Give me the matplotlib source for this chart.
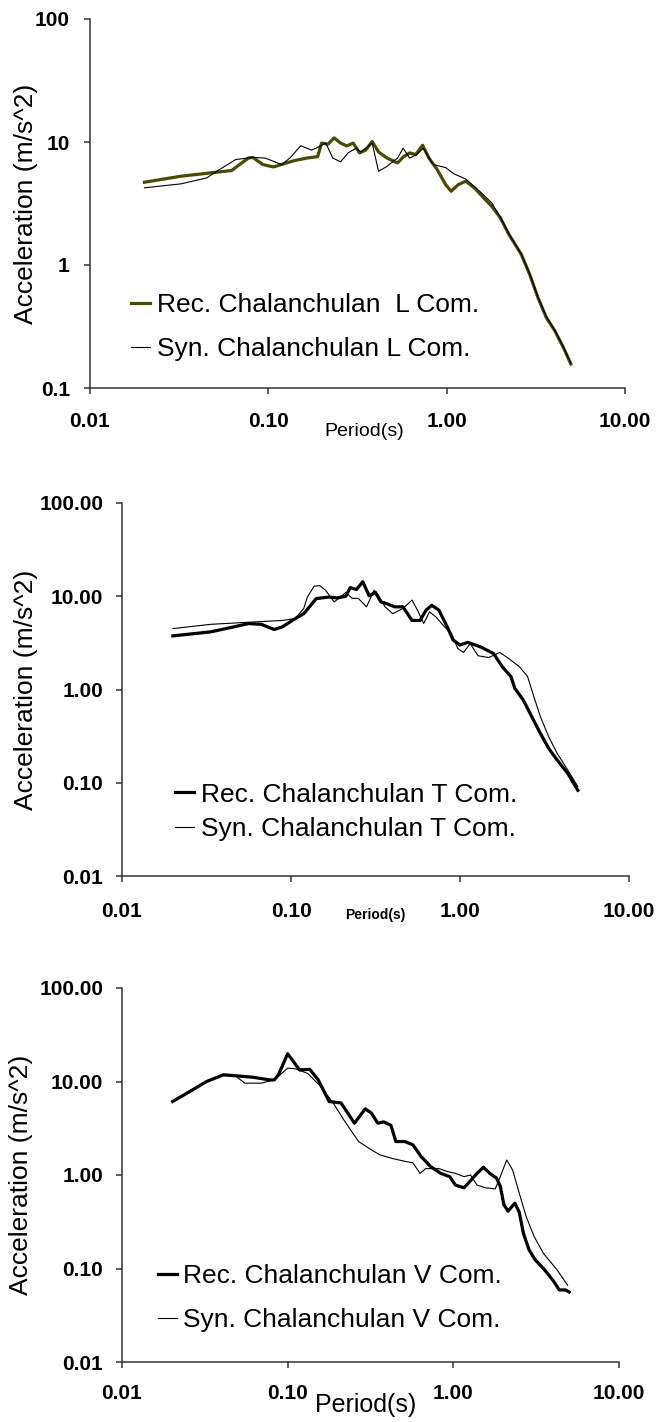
import matplotlib
matplotlib.use("Agg")
import matplotlib.pyplot as plt
from matplotlib.ticker import FixedLocator, FixedFormatter, NullLocator

plt.rcParams['font.family'] = ['Liberation Sans', 'DejaVu Sans']

# ---------------- data ----------------
# Panel L
L_rec_T = [0.0202, 0.0324, 0.0474, 0.0622, 0.0773, 0.0817, 0.0933, 0.107, 0.140, 0.165, 0.189, 0.199,
           0.216, 0.234, 0.254, 0.275, 0.299, 0.325, 0.352, 0.382, 0.415, 0.463, 0.530, 0.574, 0.62,
           0.67, 0.733, 0.795, 0.885, 0.986, 1.06, 1.16, 1.28, 1.44, 1.61, 1.79, 2.0, 2.23, 2.62,
           2.92, 3.25, 3.62, 4.04, 4.51, 4.97]
L_rec_A = [4.71, 5.27, 5.61, 5.86, 7.41, 7.5, 6.55, 6.27, 7.06, 7.41, 7.6, 9.8,
           9.6, 10.8, 9.8, 9.3, 9.8, 8.15, 8.6, 10.1, 8.3, 7.4, 6.76, 7.6, 8.15,
           7.9, 9.4, 7.4, 5.97, 4.51, 3.98, 4.5, 4.8, 4.2, 3.52, 3.0, 2.42, 1.78, 1.22,
           0.84, 0.543, 0.374, 0.292, 0.214, 0.157]
L_syn_T = [0.0202, 0.0324, 0.045, 0.053, 0.0656, 0.082, 0.096, 0.119, 0.132, 0.152, 0.174, 0.185,
           0.21, 0.23, 0.254, 0.28, 0.31, 0.33, 0.382, 0.415, 0.46, 0.53, 0.57, 0.62, 0.68,
           0.74, 0.84, 0.986, 1.10, 1.28, 1.53, 1.79, 2.0, 2.23, 2.62, 2.92, 3.25, 3.62, 4.04,
           4.51, 4.97]
L_syn_A = [4.24, 4.57, 5.1, 5.95, 7.2, 7.5, 7.4, 6.55, 7.4, 9.33, 8.6, 8.9,
           9.8, 7.4, 6.9, 8.15, 8.9, 8.3, 9.8, 5.78, 6.3, 7.4, 8.9, 7.4, 7.9,
           8.9, 6.55, 6.2, 5.5, 5.0, 3.98, 3.2, 2.45, 1.8, 1.23, 0.85, 0.55, 0.38, 0.295,
           0.216, 0.158]

# Panel T
T_rec_T = [0.0200, 0.0335, 0.0562, 0.0668, 0.0794, 0.089, 0.106, 0.119, 0.141, 0.168, 0.188, 0.211,
           0.224, 0.244, 0.266, 0.29, 0.316, 0.34, 0.37, 0.41, 0.46, 0.52, 0.58, 0.63, 0.68,
           0.75, 0.84, 0.91, 1.0, 1.11, 1.32, 1.58, 1.78, 2.0, 2.11, 2.37, 2.66, 2.99, 3.35,
           3.76, 4.34, 4.98]
T_rec_A = [3.76, 4.15, 5.09, 5.0, 4.4, 4.7, 5.77, 6.5, 9.44, 9.8, 9.6, 10.0,
           12.4, 11.8, 14.3, 10.1, 11.0, 8.7, 8.3, 7.7, 7.7, 5.5, 5.5, 7.1, 8.0,
           7.1, 4.7, 3.4, 3.0, 3.2, 2.87, 2.43, 1.75, 1.38, 1.03, 0.77, 0.51, 0.338, 0.233,
           0.175, 0.126, 0.083]
T_syn_T = [0.0200, 0.0335, 0.06, 0.089, 0.106, 0.119, 0.125, 0.137, 0.148, 0.16, 0.18, 0.196,
           0.211, 0.23, 0.25, 0.28, 0.31, 0.33, 0.36, 0.40, 0.46, 0.52, 0.56, 0.61, 0.66,
           0.72, 0.81, 0.89, 0.97, 1.05, 1.15, 1.28, 1.48, 1.72, 1.94, 2.25, 2.51, 2.74, 2.99,
           3.35, 3.76, 4.34, 4.98]
T_syn_A = [4.5, 5.0, 5.3, 5.5, 5.77, 7.4, 9.8, 12.8, 13.0, 11.6, 8.7, 9.8,
           11.0, 9.5, 9.5, 7.7, 11.6, 10.1, 7.7, 6.5, 7.4, 9.1, 7.1, 5.1, 6.8,
           6.0, 4.7, 4.0, 2.75, 2.5, 3.1, 2.3, 2.2, 2.5, 2.15, 1.75, 1.38, 0.83, 0.51,
           0.311, 0.206, 0.137, 0.091]

# Panel V
V_rec_T = [0.0202, 0.0256, 0.0324, 0.041, 0.049, 0.0618, 0.078, 0.083, 0.088, 0.1, 0.118, 0.136,
           0.153, 0.178, 0.21, 0.253, 0.294, 0.32, 0.35, 0.38, 0.42, 0.45, 0.51, 0.57, 0.64,
           0.73, 0.84, 0.95, 1.03, 1.16, 1.27, 1.39, 1.52, 1.66, 1.82, 1.92, 2.02, 2.14, 2.35,
           2.5, 2.65, 2.87, 3.13, 3.5, 3.99, 4.36, 4.76, 5.0]
V_rec_A = [6.1, 7.8, 10.0, 11.8, 11.5, 11.1, 10.4, 10.4, 11.8, 19.8, 13.3, 13.5,
           10.4, 6.1, 5.9, 3.58, 5.1, 4.6, 3.58, 3.7, 3.4, 2.28, 2.28, 2.1, 1.57,
           1.23, 1.04, 0.96, 0.78, 0.73, 0.87, 1.04, 1.21, 1.04, 0.93, 0.76, 0.48, 0.41, 0.5,
           0.40, 0.237, 0.157, 0.123, 0.1, 0.075, 0.059, 0.059, 0.056]
V_syn_T = [0.0202, 0.0256, 0.0324, 0.041, 0.049, 0.055, 0.069, 0.083, 0.1, 0.111, 0.132, 0.159,
           0.188, 0.225, 0.268, 0.30, 0.33, 0.36, 0.43, 0.51, 0.57, 0.63, 0.68, 0.82, 0.92,
           1.03, 1.16, 1.27, 1.39, 1.56, 1.79, 1.92, 2.1, 2.28, 2.5, 2.75, 3.08, 3.5, 4.24, 4.9]
V_syn_A = [6.1, 7.8, 10.0, 11.6, 11.3, 9.6, 9.6, 10.4, 13.9, 13.7, 12.2, 8.8,
           5.9, 3.58, 2.28, 2.0, 1.8, 1.64, 1.5, 1.4, 1.35, 1.04, 1.17, 1.17, 1.09,
           1.04, 0.96, 1.0, 0.78, 0.73, 0.71, 0.96, 1.45, 1.13, 0.64, 0.36, 0.218, 0.145, 0.096, 0.066]

x_ticks = [0.01, 0.1, 1, 10]
x_ticklabels = ["0.01", "0.10", "1.00", "10.00"]
y_ticks_L = [0.1, 1, 10, 100]
y_ticklabels_L = ["0.1", "1", "10", "100"]
y_ticks_TV = [0.01, 0.1, 1, 10, 100]
y_ticklabels_TV = ["0.01", "0.10", "1.00", "10.00", "100.00"]

leg_L = ["Rec. Chalanchulan  L Com.", "Syn. Chalanchulan L Com."]
leg_T = ["Rec. Chalanchulan T Com.", "Syn. Chalanchulan T Com."]
leg_V = ["Rec. Chalanchulan V Com.", "Syn. Chalanchulan V Com."]

# ---------------- figure ----------------
W, H = 659, 1422
fig = plt.figure(figsize=(W / 100, H / 100), dpi=100)


def px_axes(left, right, top, bottom):
    return fig.add_axes([left / W, 1 - bottom / H, (right - left) / W, (bottom - top) / H])


def style(ax, yticks, yticklabels, ylim, xpad, ypad):
    ax.set_xscale('log')
    ax.set_yscale('log')
    ax.set_xlim(0.01, 10)
    ax.set_ylim(*ylim)
    for s in ['top', 'right']:
        ax.spines[s].set_visible(False)
    for s in ['left', 'bottom']:
        ax.spines[s].set_linewidth(1.1)
        ax.spines[s].set_color('#333333')
    ax.xaxis.set_major_locator(FixedLocator(x_ticks))
    ax.xaxis.set_major_formatter(FixedFormatter(x_ticklabels))
    ax.yaxis.set_major_locator(FixedLocator(yticks))
    ax.yaxis.set_major_formatter(FixedFormatter(yticklabels))
    ax.xaxis.set_minor_locator(NullLocator())
    ax.yaxis.set_minor_locator(NullLocator())
    ax.tick_params(axis='both', direction='out', length=4.5, width=1.1, color='#333333',
                   labelsize=15)
    ax.tick_params(axis='x', pad=xpad)
    ax.tick_params(axis='y', pad=ypad)
    for lab in ax.get_xticklabels() + ax.get_yticklabels():
        lab.set_fontweight('bold')


def add_legend(ax, labels, lines, anchor, spacing):
    leg = ax.legend(lines, labels, loc='center left', bbox_to_anchor=anchor, frameon=False,
                    fontsize=19, handlelength=0.72, handletextpad=0.25, labelspacing=spacing,
                    borderpad=0, borderaxespad=0)
    return leg


# Panel 1
ax1 = px_axes(90, 625, 19, 388)
l1, = ax1.plot(L_rec_T, L_rec_A, color='#4a4a00', lw=2.3, solid_joinstyle='round')
l2, = ax1.plot(L_syn_T, L_syn_A, color='black', lw=0.8)
style(ax1, y_ticks_L, y_ticklabels_L, (0.1, 100), 13, 10)
ax1.set_ylabel("Acceleration (m/s^2)", fontsize=19)
ax1.yaxis.set_label_coords(-0.098, 0.5)
add_legend(ax1, leg_L, [l1, l2], (0.077, 0.165), 0.78)
fig.text(364 / W, 1 - 431 / H, "Period(s)", fontsize=14, ha='center', va='center')

# Panel 2
ax2 = px_axes(122, 629, 503, 876)
m1, = ax2.plot(T_rec_T, T_rec_A, color='black', lw=2.3, solid_joinstyle='round')
m2, = ax2.plot(T_syn_T, T_syn_A, color='black', lw=0.8)
style(ax2, y_ticks_TV, y_ticklabels_TV, (0.01, 100), 14, 9)
ax2.set_ylabel("Acceleration (m/s^2)", fontsize=19)
ax2.yaxis.set_label_coords(-0.165, 0.5)
add_legend(ax2, leg_T, [m1, m2], (0.105, 0.172), 0.4)
fig.text(375 / W, 1 - 915 / H, "Period(s)", fontsize=10, fontweight='bold', ha='center', va='center')

# Panel 3
ax3 = px_axes(122, 619, 988, 1362)
n1, = ax3.plot(V_rec_T, V_rec_A, color='black', lw=2.3, solid_joinstyle='round')
n2, = ax3.plot(V_syn_T, V_syn_A, color='black', lw=0.8)
style(ax3, y_ticks_TV, y_ticklabels_TV, (0.01, 100), 11.5, 9)
ax3.set_ylabel("Acceleration (m/s^2)", fontsize=19)
ax3.yaxis.set_label_coords(-0.18, 0.5)
add_legend(ax3, leg_V, [n1, n2], (0.072, 0.171), 0.78)
fig.text(366 / W, 1 - 1405 / H, "Period(s)", fontsize=18, ha='center', va='center')

fig.savefig("out.png", dpi=100, facecolor='white')
